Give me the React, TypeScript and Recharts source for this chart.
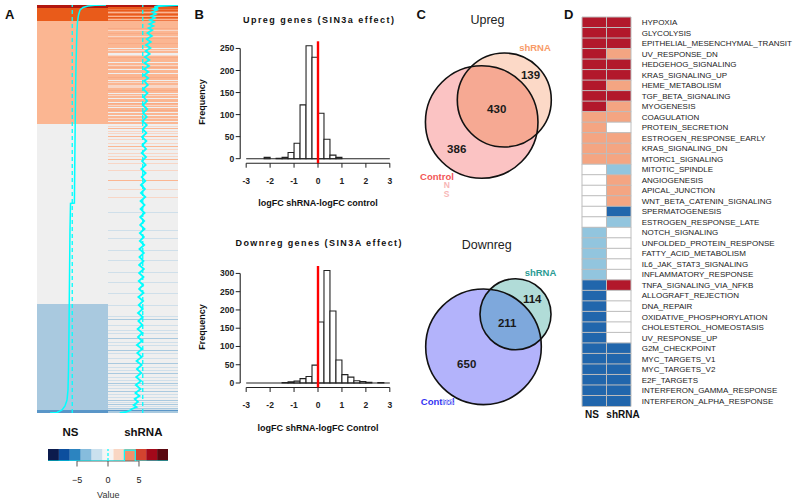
import React from 'react';
import {
  ScatterChart, Scatter, XAxis, YAxis, ZAxis, ReferenceArea, ReferenceLine,
  ComposedChart, Bar, BarChart, Cell,
} from 'recharts';

const FONT = "'Liberation Sans', Arial, Helvetica, sans-serif";

// ---------------- Panel A : ranked-gene heatmap ----------------
const heatColumns = ['NS', 'shRNA'];
const heatRowCount = 408;
// [fromRow, toRow, level]
const nsBlocks: [number, number, string][] = [
  [0, 2.5, 'up4'], [2.5, 15.7, 'up3'], [15.7, 119.3, 'up2'],
  [119.3, 299, 'zero'], [299, 405, 'dn2'], [405, 408, 'dn3'],
];
const shBase: [number, number, string][] = [
  [0, 2, 'up4'], [2, 16, 'up3b'], [16, 119, 'up2'], [119, 408, 'zero'],
];
const shStripes: [number, number, string][] = [
  [2, 3.5, 'up3'], [5, 6, 'up3'], [7, 8, 'up2'], [8.5, 9.5, 'up3'], [10.5, 11.5, 'up2'], [12, 13, 'up3'], [14, 15, 'up2'],
  [23, 24, 'up2b'], [28, 29, 'up2b'], [33, 34, 'up2b'], [38, 39, 'up2b'], [52, 53, 'up2b'], [62, 63, 'up2b'],
  [72, 73, 'up2b'], [85, 86, 'up2b'], [98, 99, 'up2b'], [105, 106, 'up2b'],
  [25, 26, 'up1'], [31, 32, 'up1'], [43, 44, 'zero'], [45, 46, 'up1'], [48, 49.5, 'zero'], [50, 51, 'up1'],
  [57, 58, 'zero'], [60, 61, 'up1'], [63.5, 64.5, 'zero'], [68, 69, 'zero'], [75, 76, 'zero'], [77, 78, 'up1'],
  [80, 83, 'up1'], [88, 89, 'zero'], [90, 91, 'up1'], [93, 94, 'zero'], [97, 98, 'zero'], [100, 101, 'up1'],
  [102, 103, 'zero'], [107, 108, 'zero'], [110, 111, 'zero'], [113, 114, 'up1'], [116, 117, 'zero'],
  [120.5, 121.5, 'up1'], [123, 124, 'up2'], [125.5, 126.5, 'up1'], [128, 129, 'up1'], [131, 132, 'up2'],
  [134, 135, 'up1'], [138, 139, 'up1'], [141, 142, 'up2'], [143.5, 144.5, 'up1'], [148, 149, 'up1'],
  [150.5, 151.5, 'up1'], [153.5, 154.5, 'up2'], [158, 159, 'up1'], [165, 166, 'up1'], [175, 176, 'up2'],
  [184, 185, 'up1'], [192, 193, 'up1'],
  [207, 208, 'dn1'], [225, 226, 'dn1'], [233, 234, 'dn1'], [245, 246, 'dn1'], [255, 256, 'dn1'], [267, 268, 'dn1'],
  [277, 278, 'dn1'], [288, 289, 'dn1'], [300, 301, 'dn1'], [311, 312, 'dn1'], [313.5, 314.5, 'dn2'], [320, 321, 'dn1'],
  [325, 326, 'dn1'], [327.5, 328.5, 'dn1'], [333, 334, 'dn2'], [337, 338, 'dn1'], [340, 341, 'dn1'], [345, 346, 'dn2'],
  [348, 349, 'dn1'], [353, 354, 'dn1'], [358, 359, 'dn2'], [362, 363, 'dn1'], [365, 366, 'dn1'], [368, 369, 'dn2'],
  [372, 373, 'dn1'], [375, 376, 'dn1'], [377.5, 378.5, 'dn2'], [380, 381, 'dn1'], [383, 384, 'dn1'], [386, 387, 'dn2'],
  [389, 390, 'dn1'], [392, 393, 'dn1'], [394.5, 395.5, 'dn2'], [397, 398, 'dn1'], [399, 400, 'dn2'], [401, 402, 'dn1'],
  [402.5, 403.5, 'dn2'], [404, 405, 'dn1'], [405, 406.3, 'dn3'], [406.3, 408, 'dn2'],
];
// trace values (row, value)
const nsTrace: [number, number][] = [
  [0, 9.27], [0.3, 6.25], [1, 4.33], [2.5, 2.95], [5, 2.13], [10, 1.72], [17, 1.44], [25, 1.3], [40, 1.17],
  [60, 1.03], [85, 0.92], [119, 0.81], [155, 0.7], [198, 0.59], [198.5, -0.48], [225, -0.62], [275, -0.76],
  [325, -0.89], [365, -1.03], [385, -1.17], [395, -1.44], [401, -1.99], [405, -2.81], [407.5, -4.19], [408, -6.11],
];
const shTrace: [number, number][] = [
  [0, 9.68], [1, 4.4], [2, 3.2], [3, 4.2], [4, 3.0], [5, 3.9], [7, 2.6], [9, 3.6], [11, 2.3], [13, 3.3], [15, 2.0],
  [17, 3.1], [19, 1.8], [21, 2.9], [23, 1.6], [25, 2.6], [28, 1.3], [31, 2.5], [34, 1.1], [37, 2.2], [40, 0.9],
  [43, 2.1], [46, 0.8], [49, 1.9], [52, 0.6], [55, 1.8], [58, 0.5], [61, 1.7], [64, 0.4], [67, 1.6], [70, 0.3],
  [73, 1.5], [76, 0.4], [80, 1.4], [84, 0.1], [88, 1.3], [92, 0.2], [96, 1.2], [100, 0.0], [104, 1.2], [108, 0.1],
  [112, 1.1], [116, -0.1], [120, 1.1], [124, 0.0], [128, 1.0], [132, -0.2], [136, 1.0], [140, -0.1], [144, 0.9],
  [148, -0.3], [152, 0.9], [156, -0.2], [160, 0.8], [164, -0.4], [168, 0.8], [172, -0.3], [176, 0.7], [180, -0.5],
  [184, 0.6], [188, -0.5], [192, 0.7], [196, -0.6], [200, 0.5], [204, -0.6], [208, 0.5], [212, -0.7], [216, 0.4],
  [220, -0.7], [224, 0.5], [228, -0.8], [232, 0.3], [236, -0.8], [240, 0.4], [244, -0.9], [248, 0.3], [252, -0.9],
  [256, 0.2], [260, -1.0], [264, 0.3], [268, -1.0], [272, 0.2], [276, -1.1], [280, 0.1], [284, -1.0], [288, 0.2],
  [292, -1.2], [296, 0.1], [300, -1.1], [304, 0.0], [308, -1.3], [312, 0.0], [316, -1.2], [320, -0.1],
  [324, -1.4], [328, -0.1], [332, -1.3], [336, -0.2], [340, -1.6], [344, -0.2], [348, -1.5], [352, -0.3],
  [356, -1.7], [360, -0.3], [364, -1.6], [368, -0.4], [372, -1.8], [376, -0.5], [380, -1.9], [384, -0.6],
  [388, -2.0], [391, -0.9], [394, -2.2], [397, -1.3], [400, -2.5], [402, -1.7], [404, -3.0], [405, -3.3],
  [406, -3.9], [407, -4.6], [408, -6.3],
];
// colour key
const keyBreaks = [-9.68, -7.92, -6.16, -4.4, -2.64, -0.88, 0.88, 2.64, 4.4, 6.16, 7.92, 9.68];
const keyTicks = [-5, 0, 5];
const keyHistDensity = [0, 0, 0, 0, 0, 0, 0, 0.9, 0, 0, 0];

// ---------------- Panel B : histograms ----------------
const binWidth = 0.25;
const binStarts = [-3, -2.75, -2.5, -2.25, -2, -1.75, -1.5, -1.25, -1, -0.75, -0.5, -0.25,
  0, 0.25, 0.5, 0.75, 1, 1.25, 1.5, 1.75, 2, 2.25, 2.5, 2.75];
const upregCounts = [0, 0, 0, 3, 0, 1, 3, 14, 35, 122, 256, 230, 103, 44, 8, 3, 0, 0, 0, 0, 0, 0, 0, 0];
const downregCounts = [0, 0, 0, 0, 0, 0, 1, 3, 5, 12, 18, 49, 167, 308, 197, 63, 23, 16, 6, 4, 2, 0, 1, 0];
const xTicks = [-3, -2, -1, 0, 1, 2, 3];
const upYTicks = [0, 50, 100, 150, 200, 250];
const downYTicks = [0, 50, 100, 150, 200, 250, 300];

// ---------------- Panel C : Venn ----------------
const vennSets = ['Control', 'shRNA'];
const vennUpCounts = { control: 386, both: 430, shRNA: 139 };
const vennDownCounts = { control: 650, both: 211, shRNA: 114 };

// ---------------- Panel D : hallmark grid ----------------
const gseaSets = [
  'HYPOXIA', 'GLYCOLYSIS', 'EPITHELIAL_MESENCHYMAL_TRANSIT', 'UV_RESPONSE_DN', 'HEDGEHOG_SIGNALING',
  'KRAS_SIGNALING_UP', 'HEME_METABOLISM', 'TGF_BETA_SIGNALING', 'MYOGENESIS', 'COAGULATION',
  'PROTEIN_SECRETION', 'ESTROGEN_RESPONSE_EARLY', 'KRAS_SIGNALING_DN', 'MTORC1_SIGNALING', 'MITOTIC_SPINDLE',
  'ANGIOGENESIS', 'APICAL_JUNCTION', 'WNT_BETA_CATENIN_SIGNALING', 'SPERMATOGENESIS', 'ESTROGEN_RESPONSE_LATE',
  'NOTCH_SIGNALING', 'UNFOLDED_PROTEIN_RESPONSE', 'FATTY_ACID_METABOLISM', 'IL6_JAK_STAT3_SIGNALING',
  'INFLAMMATORY_RESPONSE', 'TNFA_SIGNALING_VIA_NFKB', 'ALLOGRAFT_REJECTION', 'DNA_REPAIR',
  'OXIDATIVE_PHOSPHORYLATION', 'CHOLESTEROL_HOMEOSTASIS', 'UV_RESPONSE_UP', 'G2M_CHECKPOINT',
  'MYC_TARGETS_V1', 'MYC_TARGETS_V2', 'E2F_TARGETS', 'INTERFERON_GAMMA_RESPONSE', 'INTERFERON_ALPHA_RESPONSE',
];
const gseaNS = [2, 2, 2, 2, 2, 2, 2, 2, 2, 1, 1, 1, 1, 1, 0, 0, 0, 0, 0, 0, -1, -1, -1, -1, -1,
  -2, -2, -2, -2, -2, -2, -2, -2, -2, -2, -2, -2];
const gseaSh = [2, 2, 2, 1, 2, 2, 1, 2, 1, 1, 0, 1, 1, 1, -1, 1, 1, 1, -2, -1, 0, 0, 0, 0, 0,
  2, 0, 0, 0, 0, 0, -2, -2, -2, -2, -2, -2];

// ---------------- styles ----------------
const heatColors: Record<string, string> = {
  up4: '#b2170f', up3: '#e95b1a', up3b: '#ef7a48', up2: '#fbb692', up2b: '#f8ab86', up1: '#f8d6c6',
  zero: '#efefef', dn1: '#cfdfea', dn2: '#a9c9df', dn3: '#5a96c8',
};
const keyColors = ['#0c1b4d', '#0d4f9e', '#2c84c0', '#86bcdd', '#cbe1ee', '#f5f5f5',
  '#f9d6c3', '#f1906b', '#d3432f', '#a3091a', '#5b0810'];
const gseaColor: any = { 2: '#b2182b', 1: '#f4a582', 0: '#ffffff', '-1': '#92c5de', '-2': '#2166ac' };
const CYAN = '#00ffff';
const vennStyle: any = {
  up: { control: '#fbc3c3', shRNA: '#fcd9c7', both: '#f6a993', Control: '#f25656', shRNAName: '#f89b68', ghost: '#f7b6b6' },
  down: { control: '#b3b3fb', shRNA: '#b1dcd8', both: '#7ea8dc', Control: '#3535f3', shRNAName: '#2b9c94', ghost: '#b3bbf7' },
};
const vennLayout: any = {
  up: {
    control: { x: 81.7, y: 122 }, shRNA: { x: 104.3, y: 100 },
    controlOnly: { x: 56.7, y: 148.7 }, both: { x: 96.7, y: 108.8 }, shOnly: { x: 130.5, y: 74.7 },
    nameControl: { x: 37, y: 176.2 }, nameSh: { x: 135, y: 47.5 }, ghost: [{ x: 46.7, y: 184.5, t: 'N' }, { x: 46.5, y: 193.5, t: 'S' }],
  },
  down: {
    control: { x: 83.5, y: 346.8 }, shRNA: { x: 115.5, y: 314.3 },
    controlOnly: { x: 66.7, y: 364 }, both: { x: 107.2, y: 323.3 }, shOnly: { x: 132.2, y: 298.8 },
    nameControl: { x: 37.7, y: 401.3 }, nameSh: { x: 140.5, y: 272.7 }, ghost: [{ x: 48, y: 401.8, t: 'NS' }],
  },
};

const Empty = () => <g />;

function HeatmapA() {
  const span = keyBreaks[keyBreaks.length - 1] - keyBreaks[0];
  const toX = (col: number, v: number) => col + (v - keyBreaks[0]) / span;
  const nsData = nsTrace.map(([r, v]) => ({ x: toX(0, v), y: r }));
  const shData = shTrace.map(([r, v]) => ({ x: toX(1, v), y: r }));
  return (
    <ScatterChart width={141} height={408} margin={{ top: 0, right: 0, bottom: 0, left: 0 }}>
      <XAxis type="number" dataKey="x" domain={[0, heatColumns.length]} hide allowDataOverflow />
      <YAxis type="number" dataKey="y" domain={[0, heatRowCount]} reversed hide allowDataOverflow />
      {nsBlocks.map(([a, b, l], i) => (
        <ReferenceArea key={'n' + i} x1={0} x2={1} y1={a} y2={b} fill={heatColors[l]} fillOpacity={1} stroke="none" ifOverflow="visible" shapeRendering="crispEdges" />
      ))}
      {shBase.map(([a, b, l], i) => (
        <ReferenceArea key={'b' + i} x1={1} x2={2} y1={a} y2={b} fill={heatColors[l]} fillOpacity={1} stroke="none" ifOverflow="visible" shapeRendering="crispEdges" />
      ))}
      {shStripes.map(([a, b, l], i) => (
        <ReferenceArea key={'s' + i} x1={1} x2={2} y1={a} y2={b} fill={heatColors[l]} fillOpacity={1} stroke="none" ifOverflow="visible" shapeRendering="crispEdges" />
      ))}
      <ReferenceLine x={0.5} stroke={CYAN} strokeDasharray="4 3" strokeWidth={1.3} />
      <ReferenceLine x={1.5} stroke={CYAN} strokeDasharray="4 3" strokeWidth={1.3} />
      <Scatter data={nsData} line={{ stroke: CYAN, strokeWidth: 1.5 }} lineType="joint" shape={Empty} isAnimationActive={false} />
      <Scatter data={shData} line={{ stroke: CYAN, strokeWidth: 1.8 }} lineType="joint" shape={Empty} isAnimationActive={false} />
    </ScatterChart>
  );
}

function ColorKey() {
  const steps: { x: number; y: number }[] = [];
  keyHistDensity.forEach((d, i) => {
    steps.push({ x: keyBreaks[i], y: d });
    steps.push({ x: keyBreaks[i + 1], y: d });
  });
  return (
    <ScatterChart width={140} height={50} margin={{ top: 9, right: 12, bottom: 4, left: 8 }}>
      <XAxis type="number" dataKey="x" domain={[keyBreaks[0], keyBreaks[keyBreaks.length - 1]]} ticks={keyTicks}
        allowDataOverflow axisLine={false} tickLine={{ stroke: '#555' }} tickSize={5.5} tickMargin={10} height={25}
        interval={0} tick={{ fontSize: 9, fill: '#222', fontFamily: FONT }}
        tickFormatter={(v: number) => (v < 0 ? '\u2212' + Math.abs(v) : String(v))} />
      <YAxis type="number" dataKey="y" domain={[0, 1]} hide allowDataOverflow />
      {keyColors.map((c, i) => (
        <ReferenceArea key={i} x1={keyBreaks[i]} x2={keyBreaks[i + 1]} y1={0} y2={1} fill={c} fillOpacity={1} stroke="none" ifOverflow="visible" />
      ))}
      <ReferenceLine segment={[{ x: keyTicks[0], y: 0 }, { x: keyTicks[keyTicks.length - 1], y: 0 }]} stroke="#666" ifOverflow="visible" />
      <ReferenceLine x={0} stroke={CYAN} strokeDasharray="3 2" strokeWidth={1.2} />
      <Scatter data={steps} line={{ stroke: CYAN, strokeWidth: 1.2 }} lineType="joint" shape={Empty} isAnimationActive={false} />
    </ScatterChart>
  );
}

function Hist({ counts, yTicks, yMax, top, bottom }: { counts: number[]; yTicks: number[]; yMax: number; top: number; bottom: number }) {
  const pad = 0.04 * yMax;
  const yLo = -pad, yHi = yMax + pad;
  const data = binStarts.map((b, i) => ({ mid: b + binWidth / 2, c: counts[i] > 0 ? counts[i] : null }));
  const tickStyle = { fontSize: 8.5, fontWeight: 'bold' as any, fill: '#222', fontFamily: FONT };
  // plot width 155.6 px over 6.5 units -> one bin = 5.98 px
  return (
    <ComposedChart width={200} height={160} data={data} margin={{ top, right: 4.2, bottom, left: 0.2 }} barCategoryGap={0} barGap={0}>
      <XAxis dataKey="mid" type="number" domain={[-3.25, 3.25]} ticks={xTicks} allowDataOverflow axisLine={false}
        tickLine={{ stroke: '#222' }} tickSize={4.5} tickMargin={10} height={20} interval={0} tick={tickStyle} />
      <YAxis type="number" domain={[yLo, yHi]} ticks={yTicks} allowDataOverflow width={40} axisLine={false}
        tickLine={{ stroke: '#222' }} tickSize={4.5} tickMargin={1.5} interval={0} tick={tickStyle} />
      <Bar dataKey="c" barSize={5.98} fill="#ffffff" stroke="#222" strokeWidth={1.1} isAnimationActive={false} />
      <ReferenceLine segment={[{ x: -3, y: 0 }, { x: 3, y: 0 }]} stroke="#222" strokeWidth={1.1} ifOverflow="visible" />
      <ReferenceLine segment={[{ x: -3, y: yLo }, { x: 3, y: yLo }]} stroke="#222" strokeWidth={1.1} ifOverflow="visible" />
      <ReferenceLine segment={[{ x: -3.25, y: 0 }, { x: -3.25, y: yTicks[yTicks.length - 1] }]} stroke="#222" strokeWidth={1.1} ifOverflow="visible" />
      <ReferenceLine x={0} stroke="#ff0000" strokeWidth={2.4} />
    </ComposedChart>
  );
}

function VennC() {
  const mk = (venn: string, counts: any) => {
    const L = vennLayout[venn];
    return {
      circles: [
        { venn, set: 'control', x: L.control.x, y: L.control.y, total: counts.control + counts.both },
        { venn, set: 'shRNA', x: L.shRNA.x, y: L.shRNA.y, total: counts.shRNA + counts.both },
      ],
      labels: [
        { venn, kind: 'num', text: String(counts.control), ...L.controlOnly },
        { venn, kind: 'num', text: String(counts.both), ...L.both },
        { venn, kind: 'num', text: String(counts.shRNA), ...L.shOnly },
        { venn, kind: 'Control', text: vennSets[0], ...L.nameControl },
        { venn, kind: 'shRNAName', text: vennSets[1], ...L.nameSh },
        ...L.ghost.map((g: any) => ({ venn, kind: 'ghost', text: g.t, x: g.x, y: g.y })),
      ],
    };
  };
  const up = mk('up', vennUpCounts);
  const down = mk('down', vennDownCounts);
  const ctrl = [up.circles[0], down.circles[0]];
  const sh = [up.circles[1], down.circles[1]];
  const labels = [...up.labels, ...down.labels];

  const CtrlShape = (p: any) => {
    const r = p.width / 2;
    return (
      <g>
        <defs><clipPath id={'clip-' + p.payload.venn}><circle cx={p.cx} cy={p.cy} r={r} /></clipPath></defs>
        <circle cx={p.cx} cy={p.cy} r={r} fill={vennStyle[p.payload.venn].control} />
      </g>
    );
  };
  const ShShape = (p: any) => <circle cx={p.cx} cy={p.cy} r={p.width / 2} fill={vennStyle[p.payload.venn].shRNA} />;
  const BothShape = (p: any) => (
    <circle cx={p.cx} cy={p.cy} r={p.width / 2} fill={vennStyle[p.payload.venn].both} clipPath={`url(#clip-${p.payload.venn})`} />
  );
  const Outline = (p: any) => <circle cx={p.cx} cy={p.cy} r={p.width / 2} fill="none" stroke="#111" strokeWidth={1.6} />;
  const LabelShape = (p: any) => {
    const d = p.payload;
    const st = vennStyle[d.venn];
    const isNum = d.kind === 'num';
    return (
      <text x={p.cx} y={p.cy} dy="0.36em" textAnchor="middle" fontFamily={FONT}
        fontSize={isNum ? 11.5 : d.kind === 'ghost' ? 8.5 : 9.5} fontWeight="bold"
        fill={isNum ? '#1a1a1a' : st[d.kind]}>{d.text}</text>
    );
  };
  return (
    <ScatterChart width={170} height={420} margin={{ top: 0, right: 0, bottom: 0, left: 0 }}>
      <XAxis type="number" dataKey="x" domain={[0, 170]} hide allowDataOverflow />
      <YAxis type="number" dataKey="y" domain={[0, 420]} reversed hide allowDataOverflow />
      <ZAxis type="number" dataKey="total" domain={[0, 1000]} range={[0, 12193]} />
      <Scatter data={ctrl} shape={CtrlShape} isAnimationActive={false} />
      <Scatter data={sh} shape={ShShape} isAnimationActive={false} />
      <Scatter data={sh} shape={BothShape} isAnimationActive={false} />
      <Scatter data={[...ctrl, ...sh]} shape={Outline} isAnimationActive={false} />
      <Scatter data={labels} shape={LabelShape} isAnimationActive={false} />
    </ScatterChart>
  );
}

const GseaTick = (p: any) => (
  <text x={p.x} y={p.y} dy="0.36em" textAnchor="start" fontSize={8} fill="#222" fontFamily={FONT}>{p.payload.value}</text>
);

function GseaGrid() {
  const data = gseaSets.map((name, i) => ({ name, ns: gseaNS[i], sh: gseaSh[i], cellNS: 1, cellSH: 1 }));
  return (
    <BarChart layout="vertical" width={220} height={420} data={data} margin={{ top: 17, right: 0, bottom: 14, left: 6 }} barCategoryGap={0} barGap={0}>
      <XAxis type="number" domain={[0, 2]} hide />
      <YAxis type="category" dataKey="name" orientation="right" width={165} axisLine={false} tickLine={false}
        interval={0} tick={GseaTick} tickSize={6} tickMargin={4.7} />
      <Bar dataKey="cellNS" stackId="g" stroke="#bdbdbd" strokeWidth={1} isAnimationActive={false}>
        {data.map((d, i) => <Cell key={i} fill={gseaColor[d.ns]} />)}
      </Bar>
      <Bar dataKey="cellSH" stackId="g" stroke="#bdbdbd" strokeWidth={1} isAnimationActive={false}>
        {data.map((d, i) => <Cell key={i} fill={gseaColor[d.sh]} />)}
      </Bar>
    </BarChart>
  );
}

export default function App() {
  const bold = { fontFamily: FONT, fontWeight: 'bold' as any, fill: '#111' };
  return (
    <div style={{ position: 'absolute', left: 0, top: 0, width: 796, height: 503, overflow: 'hidden', background: '#fff', fontFamily: FONT }}>
      <div style={{ position: 'absolute', left: 37, top: 5 }}><HeatmapA /></div>
      <div style={{ position: 'absolute', left: 40, top: 440 }}><ColorKey /></div>
      <div style={{ position: 'absolute', left: 200, top: 30 }}>
        <Hist counts={upregCounts} yTicks={upYTicks} yMax={256} top={11.3} bottom={6.8} />
      </div>
      <div style={{ position: 'absolute', left: 200, top: 255 }}>
        <Hist counts={downregCounts} yTicks={downYTicks} yMax={308} top={11} bottom={7.5} />
      </div>
      <div style={{ position: 'absolute', left: 400, top: 0 }}><VennC /></div>
      <div style={{ position: 'absolute', left: 576, top: 0 }}><GseaGrid /></div>
      <svg width={796} height={503} style={{ position: 'absolute', left: 0, top: 0, pointerEvents: 'none' }}>
        <text x={5} y={19.3} fontSize={13} {...bold}>A</text>
        <text x={194.5} y={19.3} fontSize={13} {...bold}>B</text>
        <text x={416.5} y={19.3} fontSize={13} {...bold}>C</text>
        <text x={564} y={19.3} fontSize={13} {...bold}>D</text>

        <text x={318.5} y={22.7} fontSize={9} textAnchor="middle" textLength={151} lengthAdjust="spacing" {...bold}>Upreg genes (SIN3a effect)</text>
        <text x={318.5} y={245.5} fontSize={9} textAnchor="middle" textLength={166} lengthAdjust="spacing" {...bold}>Downreg genes (SIN3A effect)</text>
        <text x={318} y={206} fontSize={9} textAnchor="middle" {...bold}>logFC shRNA-logFC control</text>
        <text x={318} y={431} fontSize={9} textAnchor="middle" {...bold}>logFC shRNA-logFC Control</text>
        <text x={205} y={102} fontSize={9} textAnchor="middle" transform="rotate(-90 205 102)" {...bold}>Frequency</text>
        <text x={205} y={327} fontSize={9} textAnchor="middle" transform="rotate(-90 205 327)" {...bold}>Frequency</text>

        <text x={487.5} y={24} fontSize={12.5} textAnchor="middle" fontFamily={FONT} fill="#222">Upreg</text>
        <text x={486.7} y={248.5} fontSize={12.5} textAnchor="middle" fontFamily={FONT} fill="#222">Downreg</text>

        <text x={70.5} y={435.7} fontSize={11.5} textAnchor="middle" {...bold}>{heatColumns[0]}</text>
        <text x={143.3} y={435.7} fontSize={11.5} textAnchor="middle" {...bold}>{heatColumns[1]}</text>
        <text x={108.3} y={498} fontSize={9} textAnchor="middle" fontFamily={FONT} fill="#333">Value</text>

        <text x={592} y={418.3} fontSize={10} textAnchor="middle" {...bold}>{heatColumns[0]}</text>
        <text x={623} y={418.3} fontSize={10} textAnchor="middle" {...bold}>{heatColumns[1]}</text>
      </svg>
    </div>
  );
}
